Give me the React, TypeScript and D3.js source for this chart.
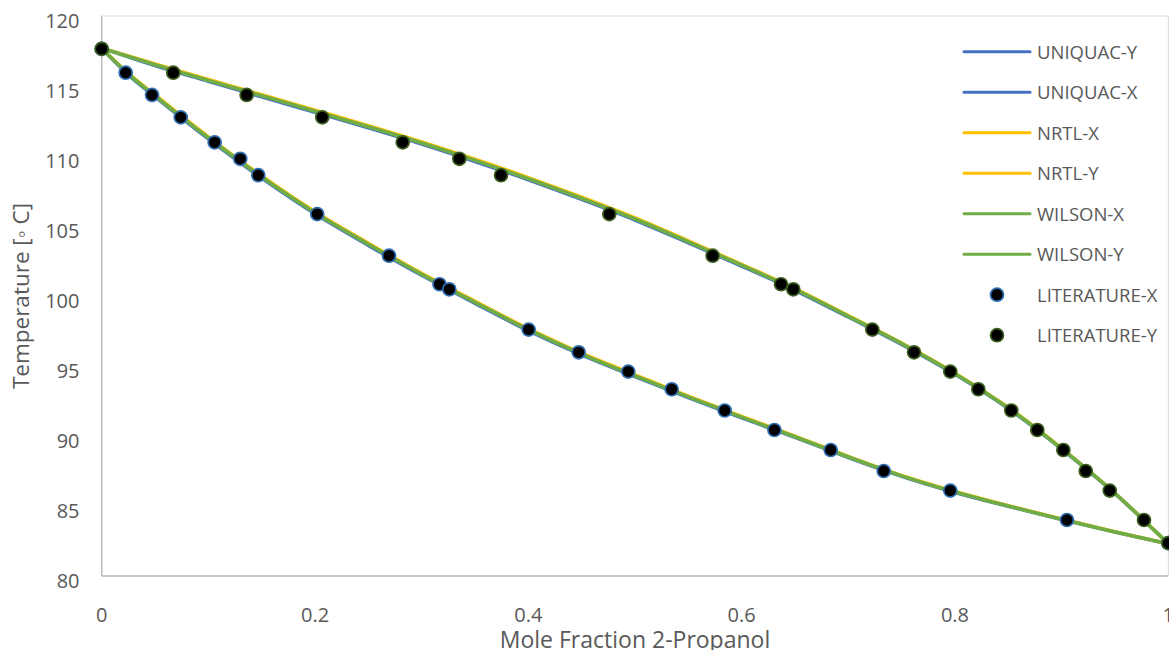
import React, { useEffect } from "react";
import * as d3 from "d3";

// ---- data ----
const MODEL_GRID = [0, 0.025, 0.05, 0.1, 0.15, 0.2, 0.25, 0.3, 0.35, 0.4, 0.45, 0.5, 0.55, 0.6, 0.65, 0.7, 0.75, 0.8, 0.85, 0.9, 0.95, 1];
const UNIQUAC_Y = [117.7, 117.08, 116.47, 115.34, 114.23, 113.13, 112.01, 110.85, 109.61, 108.3, 106.9, 105.43, 103.8, 102.14, 100.41, 98.5, 96.55, 94.41, 91.96, 89.07, 85.88, 82.3];
const UNIQUAC_X = [117.7, 115.8, 114.24, 111.22, 108.42, 105.87, 103.62, 101.48, 99.48, 97.53, 95.79, 94.24, 92.75, 91.3, 89.91, 88.46, 87.12, 85.97, 84.98, 84.03, 83.14, 82.3];
const NRTL_X = [117.7, 115.9, 114.36, 111.37, 108.57, 106.02, 103.77, 101.62, 99.62, 97.67, 95.91, 94.36, 92.85, 91.4, 89.99, 88.54, 87.18, 86.03, 85.02, 84.07, 83.16, 82.3];
const NRTL_Y = [117.7, 117.14, 116.57, 115.46, 114.37, 113.27, 112.17, 111.01, 109.77, 108.45, 107.05, 105.57, 103.94, 102.26, 100.53, 98.6, 96.64, 94.48, 92.03, 89.12, 85.91, 82.3];
const WILSON_X = [117.7, 115.85, 114.3, 111.3, 108.5, 105.95, 103.7, 101.55, 99.55, 97.6, 95.85, 94.3, 92.8, 91.35, 89.95, 88.5, 87.15, 86.0, 85.0, 84.05, 83.15, 82.3];
const WILSON_Y = [117.7, 117.11, 116.52, 115.4, 114.3, 113.2, 112.09, 110.93, 109.69, 108.37, 106.97, 105.5, 103.87, 102.2, 100.47, 98.55, 96.6, 94.45, 92.0, 89.1, 85.9, 82.3];

const LIT_T = [117.65, 115.95, 114.36, 112.76, 110.98, 109.8, 108.63, 105.85, 102.88, 100.84, 100.48, 97.6, 95.98, 94.6, 93.34, 91.82, 90.43, 89.0, 87.5, 86.1, 84.0, 82.35];
const LIT_X = [0, 0.0225, 0.0472, 0.0741, 0.1059, 0.1299, 0.1468, 0.2021, 0.2694, 0.3167, 0.3259, 0.4003, 0.4472, 0.4937, 0.5344, 0.5841, 0.6307, 0.6835, 0.7332, 0.7956, 0.905, 1];
const LIT_Y = [0, 0.0671, 0.1359, 0.2068, 0.2822, 0.3353, 0.3744, 0.4759, 0.5728, 0.6369, 0.6484, 0.7225, 0.7616, 0.7956, 0.8219, 0.8528, 0.8772, 0.9016, 0.9226, 0.9451, 0.9772, 1];

const X_TICKS = [0, 0.2, 0.4, 0.6, 0.8, 1];
const X_TICK_LABELS = ["0", "0.2", "0.4", "0.6", "0.8", "1"];
const Y_TICKS = [80, 85, 90, 95, 100, 105, 110, 115, 120];

const SERIES_NAMES = ["UNIQUAC-Y", "UNIQUAC-X", "NRTL-X", "NRTL-Y", "WILSON-X", "WILSON-Y"];
const SERIES_VALUES = [UNIQUAC_Y, UNIQUAC_X, NRTL_X, NRTL_Y, WILSON_X, WILSON_Y];
const SERIES_COLORS = ["#4472C4", "#4472C4", "#FFC000", "#FFC000", "#70AD47", "#70AD47"];

const W = 1169;
const H = 650;
const PLOT = { left: 101.7, right: 1168.3, top: 16, bottom: 576 };
const FONT = "'Open Sans', sans-serif";
const TEXT = "#595959";

export default function App() {
  useEffect(() => {
    document.body.style.margin = "0";
  }, []);

  const x = d3.scaleLinear().domain([0, 1]).range([PLOT.left, PLOT.right]);
  const y = d3.scaleLinear().domain([80, 120]).range([PLOT.bottom, PLOT.top]);

  const line = d3
    .line<[number, number]>()
    .x((d) => x(d[0]))
    .y((d) => y(d[1]))
    .curve(d3.curveMonotoneX);

  const litX = LIT_X.map((v, i) => [v, LIT_T[i]] as [number, number]);
  const litY = LIT_Y.map((v, i) => [v, LIT_T[i]] as [number, number]);

  const legendTop = 51.7;
  const legendStep = 40.5;
  const legendNames = [...SERIES_NAMES, "LITERATURE-X", "LITERATURE-Y"];

  return (
    <svg width={W} height={H} style={{ display: "block", background: "#fff" }} fontFamily={FONT}>
      {/* plot border */}
      <rect x={PLOT.left} y={PLOT.top} width={PLOT.right - PLOT.left} height={PLOT.bottom - PLOT.top} fill="none" stroke="#d9d9d9" strokeWidth={1} />
      {/* axes */}
      <line x1={PLOT.left} x2={PLOT.left} y1={PLOT.top} y2={PLOT.bottom} stroke="#bfbfbf" strokeWidth={1.5} />
      <line x1={PLOT.left} x2={PLOT.right} y1={PLOT.bottom} y2={PLOT.bottom} stroke="#bfbfbf" strokeWidth={1.5} />

      {/* y tick labels */}
      {Y_TICKS.map((t) => (
        <text key={t} x={79.5} y={y(t) + 12} textAnchor="end" fontSize={20} fill={TEXT}>
          {t}
        </text>
      ))}
      {/* x tick labels */}
      {X_TICKS.map((t, i) => (
        <text key={t} x={x(t)} y={622} textAnchor="middle" fontSize={20} fill={TEXT}>
          {X_TICK_LABELS[i]}
        </text>
      ))}

      {/* axis titles */}
      <text x={(PLOT.left + PLOT.right) / 2} y={648} textAnchor="middle" fontSize={23} fill={TEXT}>
        Mole Fraction 2-Propanol
      </text>
      <text transform={`translate(29, ${(PLOT.top + PLOT.bottom) / 2}) rotate(-90)`} textAnchor="middle" fontSize={22.5} fill={TEXT}>
        Temperature [◦ C]
      </text>

      {/* model lines */}
      {SERIES_VALUES.map((vals, i) => (
        <path
          key={SERIES_NAMES[i]}
          d={line(MODEL_GRID.map((g, j) => [g, vals[j]] as [number, number])) || ""}
          fill="none"
          stroke={SERIES_COLORS[i]}
          strokeWidth={3.6}
          strokeLinejoin="round"
        />
      ))}

      {/* literature points */}
      {litX.map((d, i) => (
        <circle key={"lx" + i} cx={x(d[0])} cy={y(d[1])} r={6.5} fill="#000" stroke="#2E6DB0" strokeWidth={1.7} />
      ))}
      {litY.map((d, i) => (
        <circle key={"ly" + i} cx={x(d[0])} cy={y(d[1])} r={6.5} fill="#000" stroke="#3B5E1F" strokeWidth={1.7} />
      ))}

      {/* legend */}
      {legendNames.map((name, i) => {
        const ly = legendTop + i * legendStep;
        return (
          <g key={name}>
            {i < 6 ? (
              <line x1={964} x2={1030} y1={ly} y2={ly} stroke={SERIES_COLORS[i]} strokeWidth={3} strokeLinecap="round" />
            ) : (
              <circle cx={997} cy={ly} r={6.5} fill="#000" stroke={i === 6 ? "#2E6DB0" : "#3B5E1F"} strokeWidth={1.7} />
            )}
            <text x={1037} y={ly + 7} fontSize={18.5} fill={TEXT}>
              {name}
            </text>
          </g>
        );
      })}
    </svg>
  );
}
